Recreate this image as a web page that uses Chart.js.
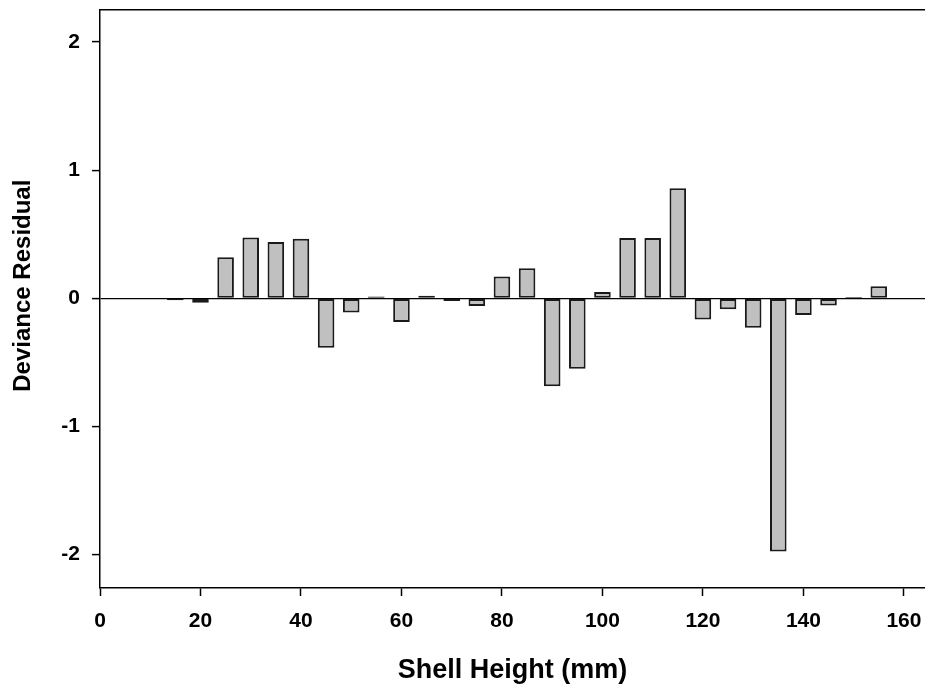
<!DOCTYPE html>
<html>
<head>
<meta charset="utf-8">
<script src="https://cdn.jsdelivr.net/npm/chart.js@4/dist/chart.umd.min.js"></script>
<style>
  body { margin: 0; background: #fff; }
  #wrap { width: 925px; height: 690px; }
</style>
</head>
<body>
<div id="wrap"><canvas id="resid-plot" width="925" height="690"></canvas></div>
<script>
// shell height classes (mm) and deviance residual per class
const shellHeight = [10, 15, 20, 25, 30, 35, 40, 45, 50, 55, 60, 65, 70, 75, 80,
  85, 90, 95, 100, 105, 110, 115, 120, 125, 130, 135, 140, 145, 150, 155];
const residuals = [0.005, -0.015, -0.035, 0.32, 0.475, 0.44, 0.465, -0.385, -0.11, 0.015,
  -0.185, 0.02, -0.02, -0.06, 0.17, 0.235, -0.685, -0.55, 0.05, 0.47,
  0.47, 0.86, -0.165, -0.085, -0.23, -1.975, -0.13, -0.055, 0.01, 0.095];
const xTicks = [0, 20, 40, 60, 80, 100, 120, 140, 160];
const yTicks = [-2, -1, 0, 1, 2];

const font = "'Liberation Sans', Arial, sans-serif";
Chart.defaults.font.family = font;
Chart.defaults.color = '#000';

// drop the label overflow padding so the plot box sits where it should
const noPad = s => { s.paddingTop = 0; s.paddingBottom = 0; s.paddingLeft = 0; s.paddingRight = 0; };

const ctx = document.getElementById('resid-plot').getContext('2d');
new Chart(ctx, {
  type: 'bar',
  data: {
    datasets: [{
      data: shellHeight.map((h, i) => ({ x: h, y: residuals[i] })),
      backgroundColor: '#c0c0c0',
      borderColor: '#1a1a1a',
      borderWidth: 2,
      borderSkipped: false,
      barPercentage: 0.66,
      categoryPercentage: 1,
      xAxisID: 'x',
      yAxisID: 'y'
    }]
  },
  options: {
    responsive: false,
    animation: false,
    layout: { padding: { top: 10, left: 0, right: 0, bottom: 0 } },
    plugins: {
      legend: { display: false },
      tooltip: { enabled: false }
    },
    scales: {
      x: {
        type: 'linear',
        position: 'bottom',
        min: 0,
        max: 164.2,
        offset: false,
        afterBuildTicks: s => { s.ticks = xTicks.map(v => ({ value: v })); },
        afterFit: s => { s.height = 102; noPad(s); },
        ticks: { font: { size: 21, weight: 'bold' }, padding: 13, maxRotation: 0, autoSkip: false },
        grid: { offset: false, drawOnChartArea: false, tickLength: 8, tickColor: '#000', tickWidth: 1.5 },
        border: { display: true, color: '#000', width: 1.5 },
        title: {
          display: true,
          text: 'Shell Height (mm)',
          font: { size: 27, weight: 'bold' },
          padding: { top: 0, bottom: 3 }
        }
      },
      xTop: {
        type: 'linear',
        position: 'top',
        min: 0,
        max: 164.2,
        afterFit: s => { s.height = 0; noPad(s); },
        ticks: { display: false },
        grid: { display: false },
        border: { display: true, color: '#000', width: 1.5 }
      },
      y: {
        type: 'linear',
        min: -2.26,
        max: 2.25,
        afterBuildTicks: s => { s.ticks = yTicks.map(v => ({ value: v })); },
        afterFit: s => { s.width = 100; noPad(s); },
        ticks: { font: { size: 21, weight: 'bold' }, padding: 12 },
        grid: {
          color: c => (c.tick && c.tick.value === 0 ? '#000' : 'rgba(0,0,0,0)'),
          lineWidth: 1.2,
          tickLength: 8,
          tickColor: '#000',
          tickWidth: 1.5
        },
        border: { display: true, color: '#000', width: 1.5 },
        title: {
          display: true,
          text: '\u00a0\u00a0\u00a0\u00a0Deviance Residual',
          font: { size: 24, weight: 'bold' },
          padding: { top: 9, bottom: 0 }
        }
      }
    }
  }
});
</script>
</body>
</html>
